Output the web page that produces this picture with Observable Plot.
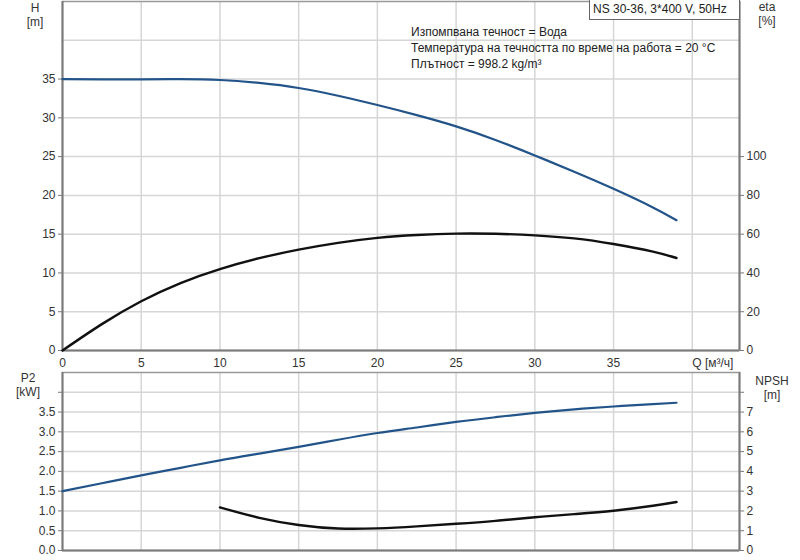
<!DOCTYPE html>
<html>
<head>
<meta charset="utf-8">
<script src="https://cdn.jsdelivr.net/npm/d3@7"></script>
<script src="https://cdn.jsdelivr.net/npm/@observablehq/plot@0.6"></script>
<style>
  html, body { margin: 0; padding: 0; background: #fff; }
  #wrap { position: relative; width: 800px; height: 560px; overflow: hidden; font-family: "Liberation Sans", Arial, sans-serif; color: #333; }
  #wrap svg { display: block; }
  .lbl { position: absolute; font-size: 12px; line-height: 14px; text-align: center; color: #333; }
  .info { position: absolute; left: 411px; top: 24px; font-size: 12px; line-height: 16px; color: #222; white-space: nowrap; }
  .model { position: absolute; left: 589px; top: -1px; width: 146px; height: 19px; border: 1px solid #666; background: #fff;
           font-size: 12px; line-height: 19px; padding-left: 3px; color: #222; white-space: nowrap; }
</style>
</head>
<body>
<div id="wrap"></div>
<script>
// Flow (m³/h)
const Q = [0, 2.5, 5, 7.5, 10, 12.5, 15, 17.5, 20, 22.5, 25, 27.5, 30, 32.5, 35, 37.5, 39];
// Head H (m)
const H = [35.0, 34.95, 34.97, 34.98, 34.88, 34.5, 33.85, 32.85, 31.65, 30.35, 28.9, 27.15, 25.15, 23.05, 20.85, 18.45, 16.8];
// Efficiency eta (%)
const ETA = [0, 13.6, 25.4, 34.8, 42.0, 47.6, 52.0, 55.5, 58.1, 59.6, 60.3, 60.2, 59.4, 57.8, 54.9, 51.0, 47.7];
// Power P2 (kW)
const P2 = [1.50, 1.70, 1.90, 2.09, 2.28, 2.45, 2.62, 2.80, 2.97, 3.11, 3.25, 3.37, 3.48, 3.57, 3.64, 3.70, 3.735];
// NPSH (m), from Q = 10
const Q_NPSH = [10, 12.5, 15, 17.5, 20, 22.5, 25, 27.5, 30, 32.5, 35, 37.5, 39];
const NPSH = [2.18, 1.65, 1.29, 1.11, 1.12, 1.22, 1.35, 1.50, 1.68, 1.84, 2.01, 2.26, 2.45];

// tick sets
const xTicks = [0, 5, 10, 15, 20, 25, 30, 35];
const xGrid = [5, 10, 15, 20, 25, 30, 35, 40];
const hTicks = [0, 5, 10, 15, 20, 25, 30, 35];
const hGrid = [5, 10, 15, 20, 25, 30, 35, 40];
const etaTicks = [0, 20, 40, 60, 80, 100];
const p2Ticks = [0, 0.5, 1.0, 1.5, 2.0, 2.5, 3.0, 3.5, 4.0];
const npshTicks = [0, 1, 2, 3, 4, 5, 6, 7, 8];
const qLabel = "Q [м³/ч]";

const BLUE = "#22548a";
const BLACK = "#111";
const GRID = "#d6d6d6";
const AXIS = "#7a7a7a";

const topData = Q.map((q, i) => ({q, h: H[i], eta: ETA[i]}));
const bottomData = Q.map((q, i) => ({q, p2: P2[i]}));
const npshData = Q_NPSH.map((q, i) => ({q, n: NPSH[i]}));

const common = {
  width: 800,
  marginLeft: 62,
  marginRight: 61,
  style: {fontFamily: "'Liberation Sans', Arial, sans-serif", fontSize: "12px", color: "#333", background: "#fff"}
};

const topPlot = Plot.plot({
  ...common,
  height: 370,
  marginTop: 1,
  marginBottom: 20,
  x: {domain: [0, 43]},
  y: {domain: [0, 45]},
  marks: [
    Plot.gridX(xGrid, {stroke: GRID, strokeOpacity: 1, strokeWidth: 1.5}),
    Plot.gridY(hGrid, {stroke: GRID, strokeOpacity: 1, strokeWidth: 1.5}),
    Plot.frame({stroke: "#999", strokeWidth: 1.5}),
    Plot.axisY(hTicks, {anchor: "left", label: null, tickSize: 4, tickPadding: 3, stroke: AXIS, fill: "#333", fontSize: 12}),
    Plot.axisY(etaTicks.map(e => e / 4), {anchor: "right", label: null, tickSize: 4, tickPadding: 3, tickFormat: d => d * 4, stroke: AXIS, fill: "#333", fontSize: 12}),
    Plot.axisX(xTicks, {anchor: "bottom", label: null, tickSize: 0, tickPadding: 8, fill: "#333", fontSize: 12}),
    Plot.text([qLabel], {x: 40, frameAnchor: "bottom", text: d => d, textAnchor: "start", lineAnchor: "middle", dy: 13, fill: "#333", fontSize: 12}),
    Plot.ruleX([0], {stroke: AXIS, strokeWidth: 2}),
    Plot.ruleX([43], {stroke: AXIS, strokeWidth: 2}),
    Plot.ruleY([0], {stroke: AXIS, strokeWidth: 2}),
    Plot.line(topData, {x: "q", y: "h", stroke: BLUE, strokeWidth: 2.2, curve: "natural"}),
    Plot.line(topData, {x: "q", y: d => d.eta / 4, stroke: BLACK, strokeWidth: 2.4, curve: "natural"})
  ]
});

const bottomPlot = Plot.plot({
  ...common,
  height: 190,
  marginTop: 2,
  marginBottom: 10,
  x: {domain: [0, 43], axis: null},
  y: {domain: [0, 4.5]},
  marks: [
    Plot.gridX(xGrid, {stroke: GRID, strokeOpacity: 1, strokeWidth: 1.5}),
    Plot.gridY(p2Ticks.slice(1), {stroke: GRID, strokeOpacity: 1, strokeWidth: 1.5}),
    Plot.frame({stroke: "#999", strokeWidth: 1.5}),
    Plot.axisY(p2Ticks, {anchor: "left", label: null, tickSize: 4, tickPadding: 3, tickFormat: d => d < 4 ? d.toFixed(1) : "", stroke: AXIS, fill: "#333", fontSize: 12}),
    Plot.axisY(npshTicks.map(n => n / 2), {anchor: "right", label: null, tickSize: 4, tickPadding: 3, tickFormat: d => d < 4 ? d * 2 : "", stroke: AXIS, fill: "#333", fontSize: 12}),
    Plot.ruleX([0], {stroke: AXIS, strokeWidth: 2}),
    Plot.ruleX([43], {stroke: AXIS, strokeWidth: 2}),
    Plot.ruleY([0], {stroke: AXIS, strokeWidth: 2}),
    Plot.line(bottomData, {x: "q", y: "p2", stroke: BLUE, strokeWidth: 2.2, curve: "natural"}),
    Plot.line(npshData, {x: "q", y: d => d.n / 2, stroke: BLACK, strokeWidth: 2.4, curve: "natural"})
  ]
});

const wrap = document.getElementById("wrap");
wrap.appendChild(topPlot);
wrap.appendChild(bottomPlot);

function addLabel(cls, html, style) {
  const d = document.createElement("div");
  d.className = cls;
  d.innerHTML = html;
  Object.assign(d.style, style);
  wrap.appendChild(d);
}
addLabel("lbl", "H<br>[m]", {left: "20px", top: "1px", width: "30px"});
addLabel("lbl", "eta<br>[%]", {left: "752px", top: "0px", width: "30px"});
addLabel("lbl", "P2<br>[kW]", {left: "13px", top: "371px", width: "30px"});
addLabel("lbl", "NPSH<br>[m]", {left: "752px", top: "374px", width: "40px"});
addLabel("info", "Изпомпвана течност = Вода<br>Температура на течността по време на работа = 20 °C<br>Плътност = 998.2 kg/m³", {});
addLabel("model", "NS 30-36, 3*400 V, 50Hz", {});
</script>
</body>
</html>
